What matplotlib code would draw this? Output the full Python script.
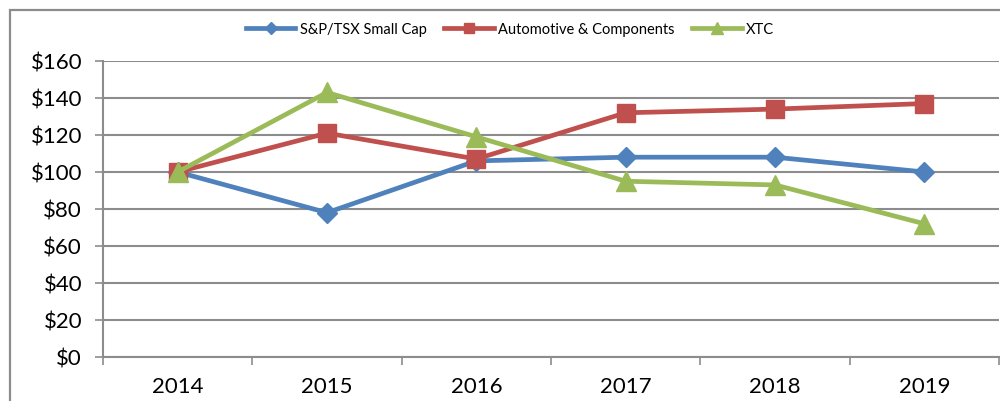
import matplotlib.pyplot as plt
from matplotlib.patches import Rectangle

years = ['2014', '2015', '2016', '2017', '2018', '2019']
small_cap = [100, 78, 106, 108, 108, 100]
auto_comp = [100, 121, 107, 132, 134, 137]
xtc = [100, 143, 119, 95, 93, 72]

plt.rcParams['font.family'] = ['Lato', 'DejaVu Sans']

fig = plt.figure(figsize=(10, 4.02), dpi=100)
ax = fig.add_axes([0.103, 0.1095, 0.896, 0.7363])

# chart frame (cropped on right and bottom)
fig.patches.append(Rectangle((0.010, -0.1), 1.2, 0.1 + 1 - 11 / 402, transform=fig.transFigure,
                             fill=False, edgecolor='#8c8c8c', linewidth=1.6))

x = list(range(len(years)))
ax.plot(x, small_cap, color='#4F81BD', lw=3.4, marker='D', ms=10.5, label='S&P/TSX Small Cap', zorder=3)
ax.plot(x, auto_comp, color='#C0504D', lw=3.4, marker='s', ms=13.5, label='Automotive & Components', zorder=4)
ax.plot(x, xtc, color='#9BBB59', lw=3.4, marker='^', ms=14.5, label='XTC', zorder=5)

ax.set_xlim(-0.5, len(years) - 0.5)
ax.set_ylim(0, 160)
ax.set_yticks(range(0, 161, 20))
ax.set_yticklabels(['$' + str(v) for v in range(0, 161, 20)], fontsize=16)
ax.set_xticks(x)
ax.set_xticklabels(years, fontsize=16)
ax.set_xticks([i - 0.5 for i in range(len(years) + 1)], minor=True)
ax.tick_params(axis='x', which='major', length=0, pad=14)
ax.tick_params(axis='x', which='minor', length=6, color='#8c8c8c', width=1.2)
ax.tick_params(axis='y', length=6, color='#8c8c8c', width=1.2, pad=9)

ax.grid(axis='y', color='#8c8c8c', lw=1.5)
ax.set_axisbelow(True)
for s in ['top', 'right']:
    ax.spines[s].set_visible(False)
for s in ['left', 'bottom']:
    ax.spines[s].set_color('#8c8c8c')
    ax.spines[s].set_linewidth(1.5)

leg = fig.legend(loc='center', bbox_to_anchor=(0.51, 0.925), ncol=3, frameon=False,
                 fontsize=10.5, handlelength=3.4, columnspacing=1.2, handletextpad=0.3,
                 markerscale=0.55)

fig.savefig('out.png', dpi=100)
